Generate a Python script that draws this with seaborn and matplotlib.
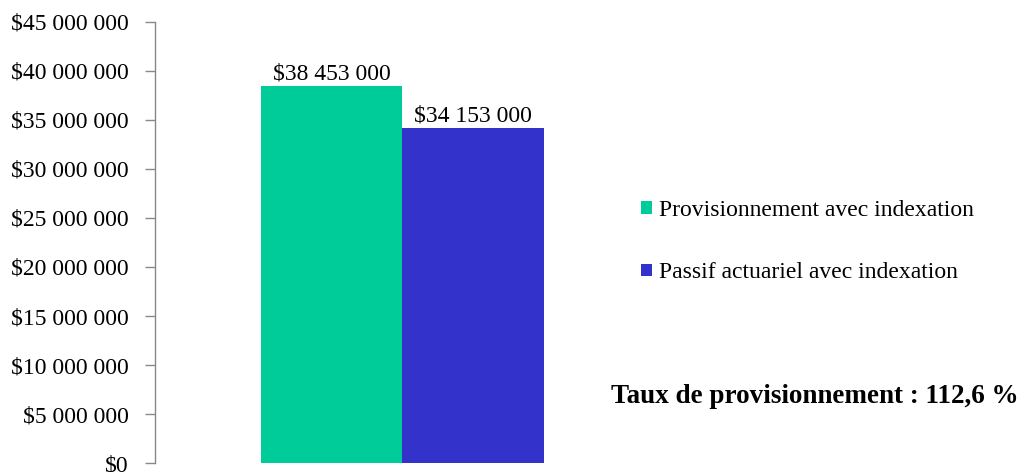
import matplotlib
matplotlib.use("Agg")
import matplotlib.pyplot as plt
import matplotlib.ticker as mticker
import seaborn as sns
import pandas as pd

# chart data
series = ["Provisionnement avec indexation", "Passif actuariel avec indexation"]
values = [38453000, 34153000]
colors = ["#00CC99", "#3333CC"]
ratio_text = "Taux de provisionnement : 112,6 %"

df = pd.DataFrame({"group": [""] * len(series), "series": series, "value": values})

sns.set_style("white")
plt.rcParams["font.family"] = ["Liberation Serif", "DejaVu Serif"]
plt.rcParams["text.color"] = "black"
plt.rcParams["ytick.labelcolor"] = "black"

def money(v, pos=None):
    return "$" + f"{v:,.0f}".replace(",", " ")

fig = plt.figure(figsize=(10.28, 4.72), dpi=100)
ax = fig.add_axes([0.1508, 0.019, 0.481, 0.9345])

sns.barplot(data=df, x="group", y="value", hue="series", palette=colors,
            width=0.572, saturation=1, linewidth=0, ax=ax)

ax.set_ylim(0, 45000000)
ax.set_xlim(-0.5, 0.5)
ax.yaxis.set_major_locator(mticker.MultipleLocator(5000000))
ax.yaxis.set_major_formatter(mticker.FuncFormatter(money))
ax.set_xlabel("")
ax.set_ylabel("")
ax.set_xticks([])

for side in ["top", "right", "bottom"]:
    ax.spines[side].set_visible(False)
ax.spines["left"].set_color("#888888")
ax.spines["left"].set_linewidth(1)
ax.tick_params(axis="y", left=True, length=7, width=1, color="#888888",
               labelcolor="black", labelsize=17, pad=12, direction="out")

# value labels above each bar
for cont in ax.containers:
    ax.bar_label(cont, labels=[money(b.get_height()) for b in cont], fontsize=17,
                 padding=1, color="black")

handles, labels = ax.get_legend_handles_labels()
leg = ax.legend(handles, labels, loc="center left", bbox_to_anchor=(0.603, 0.488),
                bbox_transform=fig.transFigure, frameon=False, fontsize=17,
                handlelength=0.45, handleheight=0.45, handletextpad=0.3, labelspacing=1.75)
for t in leg.get_texts():
    t.set_color("black")

fig.text(0.594, 0.16, ratio_text, fontsize=19.5, fontweight="bold", va="center", color="black")

fig.savefig("out.png", dpi=100)
